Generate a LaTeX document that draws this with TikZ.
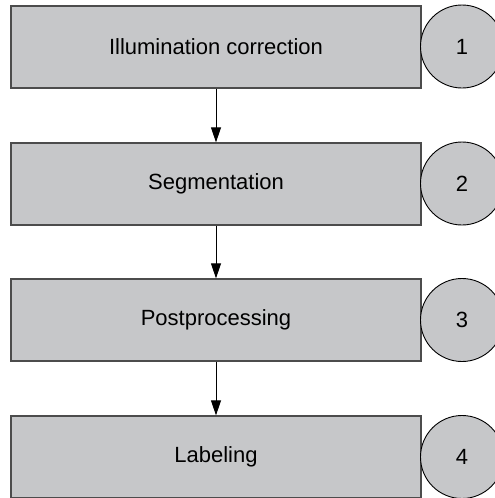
\documentclass[tikz,border=0pt]{standalone}
\usepackage{fontspec}
\setmainfont{Liberation Sans}
\usetikzlibrary{arrows.meta}
\definecolor{boxgray}{RGB}{198,199,201}
\begin{document}
\begin{tikzpicture}[x=1pt,y=-1pt,
  stepbox/.style={draw=black!70,line width=1.3pt,fill=boxgray,minimum width=410pt,minimum height=82pt,inner sep=0pt,font=\fontsize{22}{26}\selectfont},
  numcirc/.style={circle,draw=black,line width=0.9pt,fill=boxgray,minimum size=83pt,inner sep=0pt,font=\fontsize{22}{26}\selectfont},
  flow/.style={line width=1pt,-{Triangle[length=15pt,width=10pt]}}]
\useasboundingbox (0,0) rectangle (495,498);
\clip (0,0) rectangle (495,498);
\node[stepbox] (b1) at (216,47) {Illumination correction};
\node[stepbox] (b2) at (216,184) {Segmentation};
\node[stepbox] (b3) at (216,320) {Postprocessing};
\node[stepbox] (b4) at (216,457) {Labeling};
\node[numcirc] (c1) at (462,46.5) {1};
\node[numcirc] (c2) at (462,183.5) {2};
\node[numcirc] (c3) at (462,320) {3};
\node[numcirc] (c4) at (462,457) {4};
\draw[flow] (b1.south) -- (b2.north);
\draw[flow] (b2.south) -- (b3.north);
\draw[flow] (b3.south) -- (b4.north);
\end{tikzpicture}
\end{document}
